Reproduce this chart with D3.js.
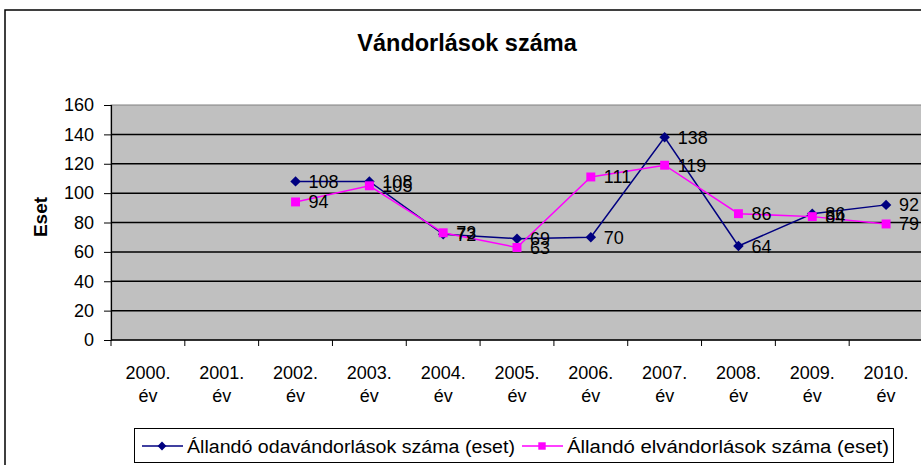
<!DOCTYPE html>
<html>
<head>
<meta charset="utf-8">
<script src="https://cdn.jsdelivr.net/npm/d3@7"></script>
<style>
  html, body { margin: 0; padding: 0; background: #fff; }
  svg { display: block; font-family: "Liberation Sans", Arial, sans-serif; }
</style>
</head>
<body>
<div id="chart"></div>
<script>
// Adatok
const years      = ['2000.', '2001.', '2002.', '2003.', '2004.', '2005.', '2006.', '2007.', '2008.', '2009.', '2010.'];
const odavandor  = [null, null, 108, 108, 72, 69, 70, 138, 64, 86, 92];
const elvandor   = [null, null, 94, 105, 73, 63, 111, 119, 86, 84, 79];
const yTicks     = [0, 20, 40, 60, 80, 100, 120, 140, 160];
const seriesNames = ['Állandó odavándorlások száma (eset)', 'Állandó elvándorlások száma (eset)'];

const W = 921, H = 465;
const plot = { left: 111, right: 923, top: 105, bottom: 340 };

const svg = d3.select('#chart').append('svg')
    .attr('width', W)
    .attr('height', H);

// külső keret
svg.append('rect')
    .attr('x', 5).attr('y', 10)
    .attr('width', W + 10).attr('height', H + 10)
    .attr('fill', '#fff')
    .attr('stroke', '#000')
    .attr('stroke-width', 1.5);

// cím
svg.append('text')
    .attr('x', 467).attr('y', 51)
    .attr('text-anchor', 'middle')
    .attr('font-size', '23.5px')
    .attr('font-weight', 'bold')
    .text('Vándorlások száma');

const x = d3.scaleBand().domain(years).range([plot.left, plot.right]).padding(0);
const y = d3.scaleLinear().domain([0, 160]).range([plot.bottom, plot.top]);
const cx = d => x(d) + x.bandwidth() / 2;

// rajzterület
svg.append('rect')
    .attr('x', plot.left).attr('y', plot.top)
    .attr('width', plot.right - plot.left)
    .attr('height', plot.bottom - plot.top)
    .attr('fill', '#c0c0c0')
    .attr('stroke', '#808080');

// rácsvonalak
svg.append('g')
    .selectAll('line')
    .data(yTicks.filter(t => t > 0 && t < 160))
    .join('line')
    .attr('x1', plot.left).attr('x2', plot.right)
    .attr('y1', d => y(d)).attr('y2', d => y(d))
    .attr('stroke', '#000')
    .attr('stroke-width', 1.5);

// Y tengely
const yAxis = svg.append('g')
    .attr('transform', `translate(${plot.left},0)`)
    .call(d3.axisLeft(y).tickValues(yTicks).tickSize(7).tickPadding(10));
yAxis.select('.domain').attr('stroke', '#000').attr('stroke-width', 1.2);
yAxis.selectAll('.tick line').attr('stroke', '#000');
yAxis.selectAll('text')
    .attr('font-size', '18px')
    .attr('font-family', '"Liberation Sans", Arial, sans-serif')
    .attr('fill', '#000');

// X tengely: osztásvonalak a kategóriák határán
svg.append('line')
    .attr('x1', plot.left).attr('x2', plot.right)
    .attr('y1', plot.bottom).attr('y2', plot.bottom)
    .attr('stroke', '#000').attr('stroke-width', 1.5);
svg.append('g')
    .selectAll('line')
    .data(years)
    .join('line')
    .attr('x1', d => x(d)).attr('x2', d => x(d))
    .attr('y1', plot.bottom).attr('y2', plot.bottom + 6)
    .attr('stroke', '#000');

const xLab = svg.append('g')
    .attr('font-size', '18px')
    .attr('text-anchor', 'middle')
    .selectAll('text')
    .data(years)
    .join('text')
    .attr('x', d => cx(d));
xLab.append('tspan').attr('y', 379).text(d => d);
xLab.append('tspan').attr('x', d => cx(d)).attr('y', 402).text('év');

// Y tengely címe
svg.append('text')
    .attr('transform', 'translate(47,217) rotate(-90)')
    .attr('text-anchor', 'middle')
    .attr('font-size', '19px')
    .attr('font-weight', 'bold')
    .text('Eset');

// vonalak
const series = [
    { name: seriesNames[0], values: odavandor, color: '#000080', marker: 'diamond', len: 328 },
    { name: seriesNames[1], values: elvandor,  color: '#ff00ff', marker: 'square',  len: 322 }
];

const line = d3.line()
    .defined(d => d.v != null)
    .x(d => cx(d.year))
    .y(d => y(d.v));

const symbolFor = m => m === 'diamond'
    ? d3.symbol().type(d3.symbolDiamond2).size(70)
    : d3.symbol().type(d3.symbolSquare).size(80);

series.forEach(s => {
    const pts = years.map((yr, i) => ({ year: yr, v: s.values[i] }));
    svg.append('path')
        .datum(pts)
        .attr('d', line)
        .attr('fill', 'none')
        .attr('stroke', s.color)
        .attr('stroke-width', 1.5);
    svg.append('g')
        .selectAll('path')
        .data(pts.filter(p => p.v != null))
        .join('path')
        .attr('transform', p => `translate(${cx(p.year)},${y(p.v)})`)
        .attr('d', symbolFor(s.marker)())
        .attr('fill', s.color);
});

// adatcímkék
series.forEach(s => {
    const pts = years.map((yr, i) => ({ year: yr, v: s.values[i] })).filter(p => p.v != null);
    svg.append('g')
        .attr('font-size', '18px')
        .attr('fill', '#000')
        .selectAll('text')
        .data(pts)
        .join('text')
        .attr('x', p => cx(p.year) + 13)
        .attr('y', p => y(p.v) + 6.5)
        .text(p => p.v);
});

// jelmagyarázat
const lg = svg.append('g');
lg.append('rect')
    .attr('x', 134.5).attr('y', 428.5)
    .attr('width', 759).attr('height', 34)
    .attr('fill', '#fff')
    .attr('stroke', '#000');
const legendX = [142, 522];
series.forEach((s, i) => {
    const g = lg.append('g').attr('transform', `translate(${legendX[i]},446)`);
    g.append('line')
        .attr('x1', 0).attr('x2', 41)
        .attr('stroke', s.color).attr('stroke-width', 1.5);
    g.append('path')
        .attr('transform', 'translate(20,0)')
        .attr('d', symbolFor(s.marker).size(s.marker === 'diamond' ? 50 : 55)())
        .attr('fill', s.color);
    g.append('text')
        .attr('x', 45).attr('y', 6.5)
        .attr('font-size', '18px')
        .attr('textLength', s.len)
        .attr('lengthAdjust', 'spacingAndGlyphs')
        .text(s.name);
});
</script>
</body>
</html>
